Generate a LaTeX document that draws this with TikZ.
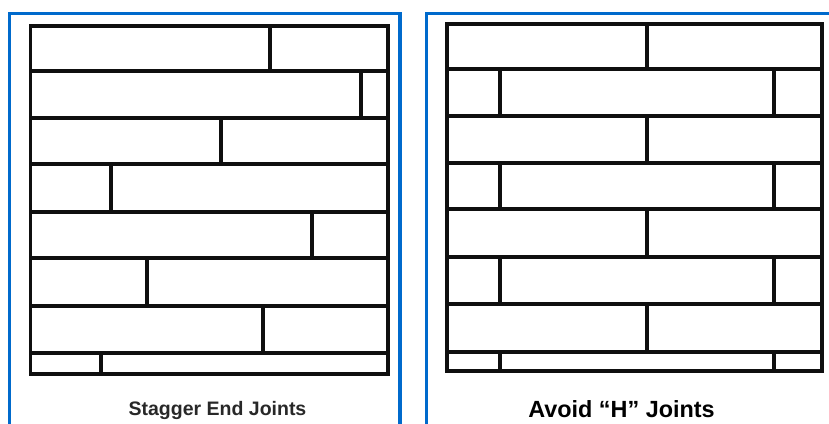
\documentclass[tikz,border=0pt]{standalone}
\usepackage{fontspec}
\setmainfont{Liberation Sans}
\usepackage{tikz}
\usepackage{xcolor}
\definecolor{panelblue}{RGB}{0,106,204}
\definecolor{boardline}{RGB}{15,15,15}
\definecolor{captiongray}{RGB}{40,40,40}

\begin{document}
\begin{tikzpicture}[x=1pt,y=-1pt,
  frame/.style={panelblue,line width=3.4pt},
  plank/.style={boardline,line width=3.3pt,line join=miter},
  caption/.style={anchor=base,font=\bfseries}]

%% ── page and clip ────────────────────────────────────────────────────────────
\useasboundingbox (0,0) rectangle (829,423);
\fill[white] (0,0) rectangle (829,423);
\begin{scope}
  \clip (0,0) rectangle (829,423);

%% ════════════════════════════════════════════════════════════════════════════
%%  LEFT PANEL — staggered end joints
%% ════════════════════════════════════════════════════════════════════════════
\draw[frame] (9.5,13.5) rectangle (400,440);

%% outline of the floor
\draw[plank] (30.5,26) rectangle (388,374);
%% row seams
\foreach \y in {71,118,164,212,258,306,353}{%
  \draw[plank] (30.5,\y) -- (388,\y);
}
%% one end joint per row, never lined up
\foreach \x/\ytop/\ybot in {270/26/71, 361/71/118, 221/118/164, 111/164/212,
                            312/212/258, 147/258/306, 263/306/353, 101/353/374}{%
  \draw[plank] (\x,\ytop) -- (\x,\ybot);
}

\node[caption,captiongray,font=\fontsize{19.5}{22}\selectfont\bfseries]
  (stagger) at (217.5,415.5) {Stagger End Joints};

%% ════════════════════════════════════════════════════════════════════════════
%%  RIGHT PANEL — joints that line up every other row
%% ════════════════════════════════════════════════════════════════════════════
\draw[frame] (426.5,13.5) rectangle (860,440);

%% outline of the floor
\draw[plank] (447,24) rectangle (822,371);
%% row seams
\foreach \y in {69,116,163,209,257,304,352}{%
  \draw[plank] (447,\y) -- (822,\y);
}
%% centre joints (odd rows)
\foreach \ytop/\ybot in {24/69, 116/163, 209/257, 304/352}{%
  \draw[plank] (647,\ytop) -- (647,\ybot);
}
%% paired joints (even rows)
\foreach \ytop/\ybot in {69/116, 163/209, 257/304, 352/371}{%
  \draw[plank] (500,\ytop) -- (500,\ybot);
  \draw[plank] (774,\ytop) -- (774,\ybot);
}

\node[caption,black,font=\fontsize{23.4}{26}\selectfont\bfseries]
  (avoid) at (621.5,417) {Avoid “H” Joints};

\end{scope}

\end{tikzpicture}
\end{document}
